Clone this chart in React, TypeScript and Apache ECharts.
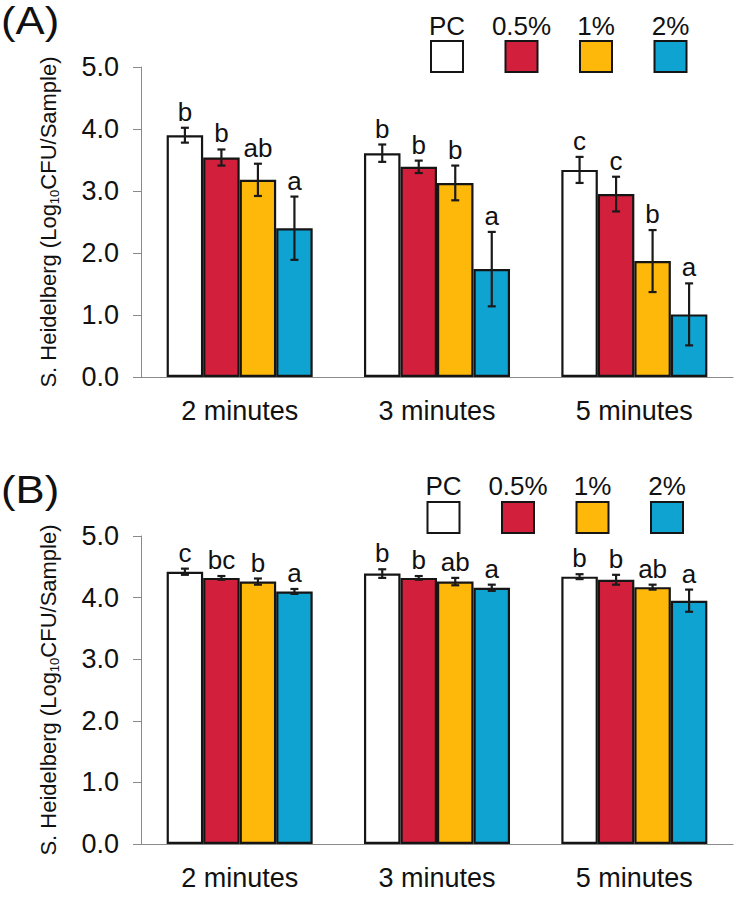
import React, { useEffect, useRef } from "react";
import * as echarts from "echarts";

const categories = ["2 minutes", "3 minutes", "5 minutes"];
const seriesNames = ["PC", "0.5%", "1%", "2%"];
const colors = ["#ffffff", "#d21f3c", "#feb80a", "#0fa3d1"];

// Panel A
const aPC = [3.9, 3.61, 3.34];
const aP05 = [3.54, 3.39, 2.95];
const aP1 = [3.18, 3.13, 1.87];
const aP2 = [2.4, 1.74, 1.01];
const aErrPC = [0.12, 0.14, 0.21];
const aErrP05 = [0.13, 0.1, 0.28];
const aErrP1 = [0.26, 0.28, 0.5];
const aErrP2 = [0.51, 0.6, 0.5];
const aLetPC = ["b", "b", "c"];
const aLetP05 = ["b", "b", "c"];
const aLetP1 = ["ab", "b", "b"];
const aLetP2 = ["a", "a", "a"];

// Panel B
const bPC = [4.42, 4.39, 4.34];
const bP05 = [4.32, 4.32, 4.29];
const bP1 = [4.26, 4.26, 4.17];
const bP2 = [4.1, 4.16, 3.95];
const bErrPC = [0.05, 0.07, 0.04];
const bErrP05 = [0.03, 0.03, 0.08];
const bErrP1 = [0.05, 0.06, 0.04];
const bErrP2 = [0.04, 0.05, 0.18];
const bLetPC = ["c", "b", "b"];
const bLetP05 = ["bc", "b", "b"];
const bLetP1 = ["b", "ab", "ab"];
const bLetP2 = ["a", "a", "a"];

const yTicks = [0, 1, 2, 3, 4, 5];

const FONT = "'Liberation Sans', Arial, sans-serif";
const CAT_GAP = 0.26;

function buildPanel(
  idx: number,
  vals: number[][],
  errs: number[][],
  lets: string[][]
) {
  const series: any[] = [];
  vals.forEach((v, i) => {
    series.push({
      type: "bar",
      name: seriesNames[i],
      xAxisIndex: idx,
      yAxisIndex: idx,
      data: v,
      barGap: "0%",
      barCategoryGap: CAT_GAP * 100 + "%",
      itemStyle: { color: colors[i], borderColor: "#151515", borderWidth: 2.2 },
      z: 2,
    });
  });
  vals.forEach((v, i) => {
    series.push({
      type: "custom",
      xAxisIndex: idx,
      yAxisIndex: idx,
      z: 5,
      encode: { x: 0, y: 1 },
      data: v.map((val, c) => [c, val, errs[i][c]]),
      renderItem: (params: any, api: any) => {
        const c = api.value(0);
        const val = api.value(1);
        const e = api.value(2);
        const band = api.size([1, 0])[0];
        const bw = (band * (1 - CAT_GAP)) / 4;
        const center = api.coord([c, val]);
        const x = center[0] + (i - 1.5) * bw;
        const top = api.coord([c, val + e])[1];
        const bot = api.coord([c, val - e])[1];
        const cap = 4;
        const st = { stroke: "#1a1a1a", lineWidth: 2.2 };
        return {
          type: "group",
          children: [
            { type: "line", shape: { x1: x, y1: top, x2: x, y2: bot }, style: st },
            { type: "line", shape: { x1: x - cap, y1: top, x2: x + cap, y2: top }, style: st },
            { type: "line", shape: { x1: x - cap, y1: bot, x2: x + cap, y2: bot }, style: st },
            {
              type: "text",
              x: x,
              y: top - 3,
              style: {
                text: lets[i][params.dataIndex],
                fill: "#111",
                font: `26px ${FONT}`,
                align: "center",
                verticalAlign: "bottom",
              },
            },
          ],
        };
      },
    });
  });
  return series;
}

function legendGraphics(boxTop: number, textY: number, x0: number, step: number) {
  const els: any[] = [];
  seriesNames.forEach((n, i) => {
    const cx = x0 + i * step;
    els.push({
      type: "text",
      x: cx,
      y: textY,
      style: {
        text: n,
        fill: "#111",
        font: `26px ${FONT}`,
        align: "center",
        verticalAlign: "middle",
      },
    });
    els.push({
      type: "rect",
      shape: { x: cx - 16, y: boxTop, width: 32, height: 31 },
      style: { fill: colors[i], stroke: "#151515", lineWidth: 2 },
    });
  });
  return els;
}

export default function App() {
  const ref = useRef<HTMLDivElement>(null);
  useEffect(() => {
    if (!ref.current) return;
    const chart = echarts.init(ref.current, undefined, { renderer: "svg" });
    const yAxisCommon = (gridIndex: number) => ({
      type: "value",
      gridIndex,
      min: yTicks[0],
      max: yTicks[yTicks.length - 1],
      interval: 1,
      name: "{n|S. Heidelberg (Log}{s|10}{n|CFU/Sample)}",
      nameLocation: "middle",
      nameGap: 80,
      nameTextStyle: {
        color: "#111",
        fontFamily: FONT,
        fontSize: 22,
        rich: {
          n: { fontSize: 22, fontFamily: FONT, color: "#111", lineHeight: 26 },
          s: { fontSize: 13, fontFamily: FONT, color: "#111", verticalAlign: "bottom", lineHeight: 26, padding: [8, 0, 0, 0] },
        },
      },
      axisLine: { show: true, lineStyle: { color: "#8a8a8a", width: 1 } },
      axisTick: { show: true, length: 8, lineStyle: { color: "#8a8a8a", width: 1 } },
      splitLine: { show: false },
      axisLabel: {
        color: "#111",
        fontFamily: FONT,
        fontSize: 27,
        margin: 22,
        formatter: (v: number) => v.toFixed(1),
      },
    });
    const xAxisCommon = (gridIndex: number) => ({
      type: "category",
      gridIndex,
      data: categories,
      axisLine: { show: true, lineStyle: { color: "#8a8a8a", width: 1 } },
      axisTick: { show: false },
      axisLabel: { color: "#111", fontFamily: FONT, fontSize: 27, margin: 20 },
    });
    const option: any = {
      animation: false,
      backgroundColor: "#ffffff",
      grid: [
        { left: 141, top: 67, width: 592, height: 310 },
        { left: 141, top: 536, width: 592, height: 308 },
      ],
      xAxis: [xAxisCommon(0), xAxisCommon(1)],
      yAxis: [yAxisCommon(0), yAxisCommon(1)],
      series: [
        ...buildPanel(
          0,
          [aPC, aP05, aP1, aP2],
          [aErrPC, aErrP05, aErrP1, aErrP2],
          [aLetPC, aLetP05, aLetP1, aLetP2]
        ),
        ...buildPanel(
          1,
          [bPC, bP05, bP1, bP2],
          [bErrPC, bErrP05, bErrP1, bErrP2],
          [bLetPC, bLetP05, bLetP1, bLetP2]
        ),
      ],
      graphic: [
        {
          type: "text",
          x: 1,
          y: 2,
          scaleX: 1.15,
          style: { text: "(A)", fill: "#111", font: `38px ${FONT}`, verticalAlign: "top" },
        },
        {
          type: "text",
          x: 1,
          y: 471,
          scaleX: 1.15,
          style: { text: "(B)", fill: "#111", font: `38px ${FONT}`, verticalAlign: "top" },
        },
        ...legendGraphics(41, 26, 447, 74.5),
        ...legendGraphics(502, 486, 443.5, 74.5),
      ],
    };
    chart.setOption(option);
    return () => chart.dispose();
  }, []);
  return (
    <div
      ref={ref}
      style={{ position: "absolute", left: 0, top: 0, width: 750, height: 901 }}
    />
  );
}
